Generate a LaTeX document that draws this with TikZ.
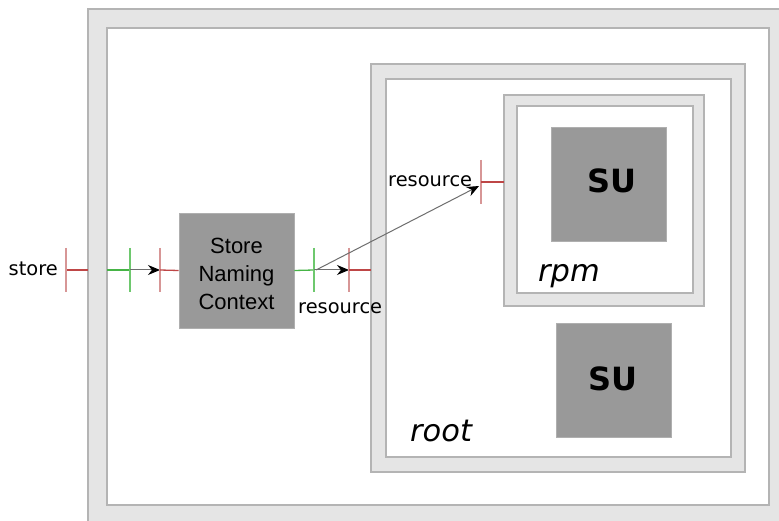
\documentclass[tikz,border=0pt]{standalone}
\usepackage{fontspec}
\setmainfont{DejaVu Sans}
\newfontfamily\libsans{Liberation Sans}
\usetikzlibrary{arrows.meta}
\definecolor{bandgray}{RGB}{229,229,229}
\definecolor{edgegray}{RGB}{180,180,180}
\definecolor{boxgray}{RGB}{153,153,153}
\definecolor{boxedge}{RGB}{175,175,175}
\definecolor{redh}{RGB}{190,70,70}
\definecolor{redv}{RGB}{215,150,150}
\definecolor{greenh}{RGB}{70,180,70}
\definecolor{greenv}{RGB}{110,200,110}
\definecolor{linegray}{RGB}{110,110,110}
\tikzset{
  band/.style={fill=bandgray,draw=edgegray,line width=1.2pt},
  inner/.style={fill=white,draw=edgegray,line width=1.2pt},
  graybox/.style={fill=boxgray,draw=boxedge,line width=0.8pt},
  rh/.style={draw=redh,line width=1.3pt},
  rv/.style={draw=redv,line width=2pt},
  gh/.style={draw=greenh,line width=1.3pt},
  gv/.style={draw=greenv,line width=2pt},
  arr/.style={draw=linegray,line width=1pt,-{Stealth[black,length=12pt,width=10pt]}},
  lbl/.style={font=\fontsize{19.4}{23}\selectfont,inner sep=0pt},
  sulbl/.style={font=\fontsize{32}{36}\selectfont\bfseries,inner sep=0pt},
  itl/.style={font=\fontsize{30.5}{34}\selectfont\itshape,inner sep=0pt,anchor=base west},
}
\begin{document}
\begin{tikzpicture}[x=1pt,y=-1pt]
\useasboundingbox (0,0) rectangle (779,521);
% outer frame
\fill[bandgray] (88,9) rectangle (779,521);
\draw[edgegray,line width=1.2pt] (88,521) -- (88,9) -- (779,9);
\draw[inner] (107,28) rectangle (769,505);
% root
\draw[band] (371,64) rectangle (745,472);
\draw[inner] (386,79) rectangle (731,457);
% rpm
\draw[band] (504,95) rectangle (704,306);
\draw[inner] (517,106) rectangle (693,293);
% SU boxes
\node[graybox,minimum width=115pt,minimum height=114pt] (su1) at (608.5,184) {};
\node[sulbl] at (612,181) {SU};
\node[graybox,minimum width=115pt,minimum height=114pt] (su2) at (613.5,380) {};
\node[sulbl] at (613,379) {SU};
\node[itl] (rpm) at (538,282) {rpm};
\node[itl] (root) at (410,441) {root};
% Store Naming Context
\node[graybox,minimum width=115pt,minimum height=115pt] (snc) at (236.5,270.5) {};
\node[font=\libsans\fontsize{22}{28}\selectfont,align=center,inner sep=0pt] at (236.5,274) {Store\\Naming\\Context};
% ports
\coordinate (ps) at (66,270);
\coordinate (fr) at (88,270);
\coordinate (fi) at (107,270);
\coordinate (g1) at (130,270);
\coordinate (r1) at (160,270);
\coordinate (g2) at (314,270);
\coordinate (r2) at (349,270);
\coordinate (rootl) at (371,270);
\coordinate (r3) at (481,182);
\coordinate (rpml) at (504,182);
\coordinate (d0) at (316,270);
\coordinate (d1) at (479,186);
\node[lbl,anchor=east] (store) at (58,269) {store};
\draw[rh] (ps) -- (fr);
\draw[rv] (66,248) -- (66,292);
\draw[gh] (fi) -- (g1);
\draw[gv] (130,248) -- (130,292);
\draw[arr] (g1) -- (r1);
\draw[rv] (160,248) -- (160,292);
\draw[rh] (r1) -- (snc.west);
\draw[gh] (snc.east) -- (g2);
\draw[gv] (314,248) -- (314,292);
\draw[arr] (g2) -- (r2);
\draw[rv] (349,248) -- (349,292);
\draw[rh] (r2) -- (rootl);
\draw[rv] (481,160) -- (481,204);
\draw[rh] (r3) -- (rpml);
\draw[arr] (d0) -- (d1);
\node[lbl,anchor=base west] (res1) at (298,314) {resource};
\node[lbl,anchor=base west] (res2) at (388,187) {resource};
\end{tikzpicture}
\end{document}
